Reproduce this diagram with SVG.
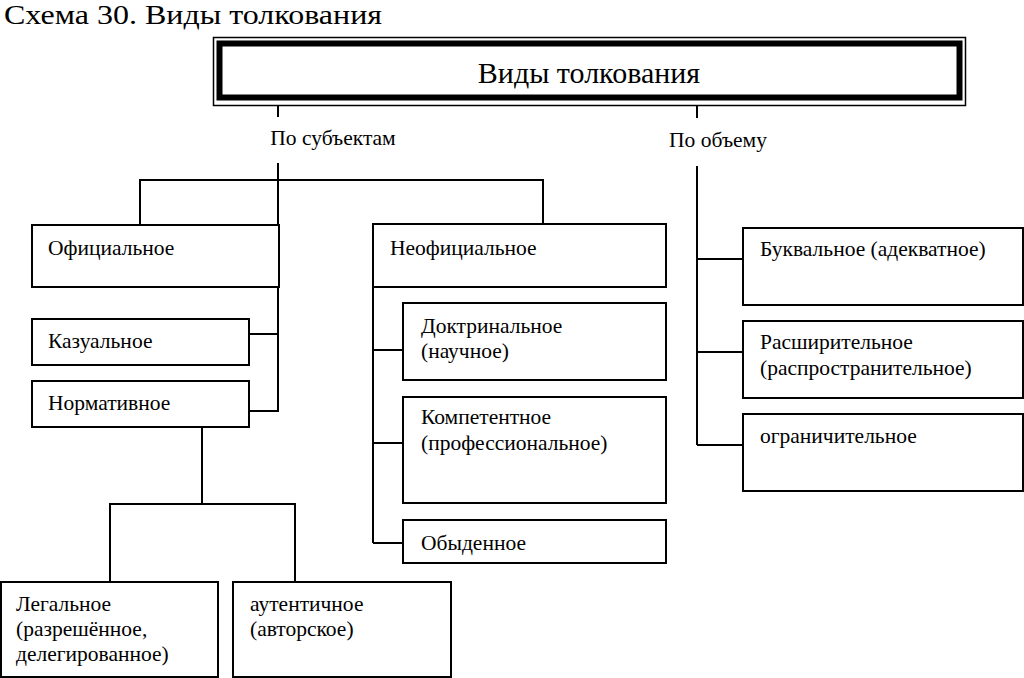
<svg xmlns="http://www.w3.org/2000/svg" width="1024" height="678" viewBox="0 0 1024 678">
<style>
text{font-family:"Liberation Serif","Times New Roman",serif;fill:#000}
.t{font-size:21.5px}
.box{fill:#fff;stroke:#000;stroke-width:2}
.ln{fill:none;stroke:#000;stroke-width:2}
</style>
<rect width="1024" height="678" fill="#fff"/>
<text x="4" y="24" font-size="27" textLength="378" lengthAdjust="spacingAndGlyphs">Схема 30. Виды толкования</text>
<g id="root">
<rect x="213.5" y="37.5" width="752" height="68" fill="#fff" stroke="#000" stroke-width="1.5"/>
<rect x="219.5" y="43.5" width="740" height="54" fill="#fff" stroke="#000" stroke-width="6"/>
<text x="589" y="83" font-size="30" text-anchor="middle">Виды толкования</text>
</g>
<g id="connectors">
<path class="ln" d="M278 105V117M278 163V411M140 226V180H543V224M279 334H249M279 411H249"/>
<path class="ln" d="M202 427V504M110 582V504H295V582"/>
<path class="ln" d="M373 287V543M373 350H403M373 443H403M373 543H403"/>
<path class="ln" d="M697 105V118M697 166V445M697 259H743M697 352H743M697 445H743"/>
</g>
<g id="label-subjects"><text class="t" x="333" y="145" text-anchor="middle">По субъектам</text></g>
<g id="label-volume"><text class="t" x="718" y="147" text-anchor="middle">По объему</text></g>
<g id="official"><rect class="box" x="32" y="225" width="247" height="62"/><text class="t" x="48" y="255">Официальное</text></g>
<g id="casual"><rect class="box" x="32" y="319" width="217" height="46"/><text class="t" x="48" y="348">Казуальное</text></g>
<g id="normative"><rect class="box" x="32" y="381" width="217" height="46"/><text class="t" x="48" y="410">Нормативное</text></g>
<g id="legal"><rect class="box" x="1" y="582" width="217" height="95"/><text class="t"><tspan x="16" y="611">Легальное</tspan><tspan x="16" y="636">(разрешённое,</tspan><tspan x="16" y="661">делегированное)</tspan></text></g>
<g id="authentic"><rect class="box" x="233" y="582" width="218" height="95"/><text class="t"><tspan x="250" y="611">аутентичное</tspan><tspan x="250" y="636">(авторское)</tspan></text></g>
<g id="unofficial"><rect class="box" x="373" y="224" width="293" height="63"/><text class="t" x="390" y="255">Неофициальное</text></g>
<g id="doctrinal"><rect class="box" x="403" y="303" width="263" height="77"/><text class="t"><tspan x="421" y="333">Доктринальное</tspan><tspan x="421" y="358">(научное)</tspan></text></g>
<g id="competent"><rect class="box" x="403" y="397" width="263" height="106"/><text class="t"><tspan x="421" y="424">Компетентное</tspan><tspan x="421" y="450">(профессиональное)</tspan></text></g>
<g id="ordinary"><rect class="box" x="403" y="520" width="263" height="43"/><text class="t" x="421" y="550">Обыденное</text></g>
<g id="literal"><rect class="box" x="743" y="228" width="280" height="77"/><text class="t" x="760" y="256">Буквальное (адекватное)</text></g>
<g id="extensive"><rect class="box" x="743" y="321" width="280" height="77"/><text class="t"><tspan x="760" y="349">Расширительное</tspan><tspan x="760" y="375">(распространительное)</tspan></text></g>
<g id="restrictive"><rect class="box" x="743" y="414" width="280" height="77"/><text class="t" x="760" y="443">ограничительное</text></g>
</svg>
